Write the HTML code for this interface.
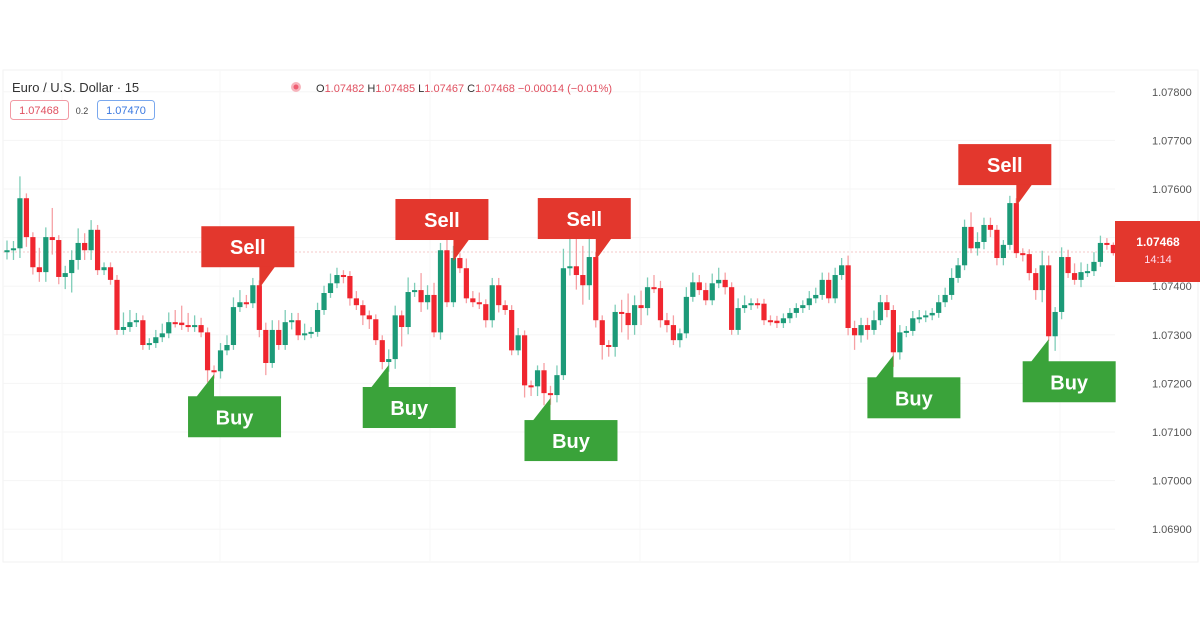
<!DOCTYPE html>
<html><head><meta charset="utf-8"><style>
body{margin:0;background:#fff;width:1200px;height:620px;overflow:hidden;font-family:"Liberation Sans",sans-serif}
svg{position:absolute;left:0;top:0}
</style></head><body>
<svg id="chart" width="1200" height="620">
<rect x="3" y="70" width="1195" height="492" fill="#fff" stroke="#f2f2f2"/>
<g id="grid"></g>
<line x1="3" x2="1115" y1="252" y2="252" stroke="#f6c9c9" stroke-width="1" stroke-dasharray="2,2"/>
<g id="candles"></g>
<g id="axis"></g>
<g>
<text x="12" y="92" font-size="13" fill="#333">Euro / U.S. Dollar · 15</text>
<circle cx="296" cy="87" r="5" fill="#f7b5bd"/>
<circle cx="296" cy="87" r="2.5" fill="#ef5e72"/>
<text x="316" y="92" font-size="11" fill="#e05060"><tspan fill="#333">O</tspan>1.07482 <tspan fill="#333">H</tspan>1.07485 <tspan fill="#333">L</tspan>1.07467 <tspan fill="#333">C</tspan>1.07468 −0.00014 (−0.01%)</text>
<rect x="10.5" y="100.5" width="58" height="19" rx="3" fill="#fff" stroke="#f29aa4"/>
<text x="39" y="114" font-size="11" fill="#e05060" text-anchor="middle">1.07468</text>
<text x="82" y="114" font-size="9" fill="#444" text-anchor="middle">0.2</text>
<rect x="97.5" y="100.5" width="57" height="19" rx="3" fill="#fff" stroke="#7aa8ee"/>
<text x="126" y="114" font-size="11" fill="#3a78e0" text-anchor="middle">1.07470</text>
</g>
<g id="labels"></g>
<g>
<rect x="1115" y="221" width="85" height="61" fill="#e3372d"/>
<text x="1158" y="246" font-size="12" font-weight="bold" fill="#fff" text-anchor="middle">1.07468</text>
<text x="1158" y="263" font-size="11" fill="#fde" text-anchor="middle">14:14</text>
</g>
</svg>
<script>
const closes=[1.07474,1.07478,1.07581,1.07501,1.07439,1.07429,1.07501,1.07495,1.07419,1.07427,
1.07454,1.07489,1.07474,1.07516,1.07433,1.07439,1.07413,1.07310,1.07316,1.07326,
1.07330,1.07279,1.07283,1.07295,1.07303,1.07326,1.07325,1.07320,1.07316,1.07320,
1.07305,1.07227,1.07225,1.07268,1.07279,1.07357,1.07367,1.07365,1.07402,1.07310,
1.07242,1.07310,1.07279,1.07326,1.07330,1.07299,1.07303,1.07306,1.07351,1.07386,
1.07406,1.07423,1.07421,1.07375,1.07361,1.07340,1.07332,1.07289,1.07244,1.07250,
1.07340,1.07316,1.07388,1.07392,1.07367,1.07382,1.07305,1.07474,1.07367,1.07458,
1.07437,1.07375,1.07367,1.07363,1.07330,1.07402,1.07361,1.07351,1.07268,1.07299,
1.07196,1.07194,1.07227,1.07180,1.07176,1.07217,1.07437,1.07441,1.07423,1.07402,
1.07460,1.07330,1.07279,1.07275,1.07347,1.07345,1.07320,1.07361,1.07355,1.07398,
1.07396,1.07330,1.07320,1.07289,1.07303,1.07378,1.07408,1.07392,1.07371,1.07406,
1.07413,1.07398,1.07310,1.07355,1.07361,1.07365,1.07364,1.07330,1.07329,1.07324,
1.07334,1.07345,1.07355,1.07361,1.07375,1.07382,1.07413,1.07375,1.07423,1.07443,
1.07314,1.07299,1.07320,1.07310,1.07330,1.07367,1.07351,1.07264,1.07305,1.07308,
1.07334,1.07336,1.07340,1.07345,1.07367,1.07382,1.07417,1.07443,1.07522,1.07478,
1.07491,1.07526,1.07516,1.07458,1.07485,1.07571,1.07468,1.07466,1.07427,1.07392,
1.07443,1.07297,1.07347,1.07460,1.07427,1.07413,1.07429,1.07431,1.07450,1.07489,
1.07485,1.07468];
const firstOpen=1.07470;
// wick extensions in points (0.00001)
const wickUp=[20,15,45,10,10,40,20,60,10,15,20,30,20,20,10,10,10,10,30,25,15,10,10,15,20,20,25,35,25,20,
15,10,10,15,20,20,25,15,15,10,15,20,20,25,15,15,20,10,15,15,20,15,10,10,15,10,10,10,10,20,
20,10,30,15,35,20,25,15,50,25,10,20,15,20,10,15,15,10,10,15,10,10,10,15,15,20,40,60,60,60,
50,10,10,10,15,25,40,20,30,20,25,15,15,20,10,20,20,15,15,20,25,15,10,20,20,10,10,10,10,10,
10,10,10,10,15,15,15,15,15,15,20,15,15,15,20,15,15,10,15,10,15,15,10,10,15,15,20,15,15,30,
20,15,15,10,10,15,10,10,10,10,30,20,10,20,15,20,20,15,20,15,10,5];
const wickDn=[15,20,20,20,15,20,20,30,15,25,40,20,20,20,10,10,10,10,10,10,10,10,10,10,10,10,10,10,10,10,
10,25,15,15,10,10,10,10,10,15,25,10,10,10,15,10,10,10,10,10,10,10,15,15,10,20,20,10,15,20,
20,40,15,10,20,15,10,15,10,10,10,10,10,10,15,15,15,10,10,10,25,20,20,25,20,15,10,15,30,40,
30,15,30,20,20,40,30,20,35,15,10,15,15,10,15,10,10,10,10,10,10,15,10,10,10,10,10,10,10,10,
10,10,10,10,10,10,10,10,10,10,15,30,15,20,10,10,15,30,15,10,10,10,10,10,10,10,10,10,10,10,
15,15,15,15,15,10,10,15,15,20,25,10,30,15,10,10,15,10,10,10,10,5];
const tickVals=[1.078,1.077,1.076,1.075,1.074,1.073,1.072,1.071,1.070,1.069];
const tickLabels=["1.07800","1.07700","1.07600","1.07500","1.07400","1.07300","1.07200","1.07100","1.07000","1.06900"];
const sellAt=[39,69,91,156];
const buyAt=[32,59,84,137,161];

const NS="http://www.w3.org/2000/svg";
const y=p=>189+(1.076-p)*48600;
const x=i=>7+i*6.47;
function mk(tag,attrs,parent){const e=document.createElementNS(NS,tag);for(const k in attrs)e.setAttribute(k,attrs[k]);parent.appendChild(e);return e;}
const grid=document.getElementById('grid'),axis=document.getElementById('axis');
tickVals.forEach((v,i)=>{
  const l=mk('line',{x1:3,x2:1115,y1:y(v),y2:y(v),stroke:'#f5f5f5'},grid);
  
  
  const t=mk('text',{x:1152,y:y(v)+4,'font-size':11,fill:'#555'},axis);
  t.textContent=tickLabels[i];
  
  
});
[62,220,430,640,850,1060].forEach(gx=>{mk('line',{x1:gx,x2:gx,y1:70,y2:562,stroke:'#f7f7f7'},grid);});
const cg=document.getElementById('candles');
closes.forEach((c,i)=>{
  const o=i===0?firstOpen:closes[i-1];
  const up=c>=o, col=up?'#1c9a78':'#f0262f', wcol=up?'#7fcdb8':'#f6a0a4';
  const top=Math.max(o,c),bot=Math.min(o,c);
  const hi=top+wickUp[i]*1e-5, lo=bot-wickDn[i]*1e-5;
  const g=mk('g',{},cg);
  
  
  mk('line',{x1:x(i),x2:x(i),y1:y(hi),y2:y(lo),stroke:wcol,'stroke-width':1.3},g);
  const h=Math.max(2,y(bot)-y(top));
  mk('rect',{x:x(i)-2.6,y:y(top),width:5.2,height:h,fill:col},g);
});
const lg=document.getElementById('labels');
sellAt.forEach(i=>{
  const tx=x(i), ty=y(Math.max(closes[i],i?closes[i-1]:firstOpen))+3;
  const bx=tx-58, by=ty-62;
  const g=mk('g',{},lg);
  
  
  mk('rect',{x:bx,y:by,width:93,height:41,fill:'#e3372d'},g);
  mk('polygon',{points:`${tx},${by+40} ${tx+16},${by+40} ${tx},${ty}`,fill:'#e3372d'},g);
  const t=mk('text',{x:bx+46.5,y:by+28,'font-size':20,'font-weight':'bold',fill:'#fff','text-anchor':'middle'},g);
  t.textContent='Sell';
});
buyAt.forEach(i=>{
  const tx=x(i), ty=y(Math.min(closes[i],closes[i-1]))+3;
  const bx=tx-26, by=ty+22;
  const g=mk('g',{},lg);
  
  
  mk('rect',{x:bx,y:by,width:93,height:41,fill:'#3aa33a'},g);
  mk('polygon',{points:`${tx},${ty} ${tx},${by+1} ${tx-18},${by+1}`,fill:'#3aa33a'},g);
  const t=mk('text',{x:bx+46.5,y:by+28,'font-size':20,'font-weight':'bold',fill:'#fff','text-anchor':'middle'},g);
  t.textContent='Buy';
});
</script>
</body></html>
